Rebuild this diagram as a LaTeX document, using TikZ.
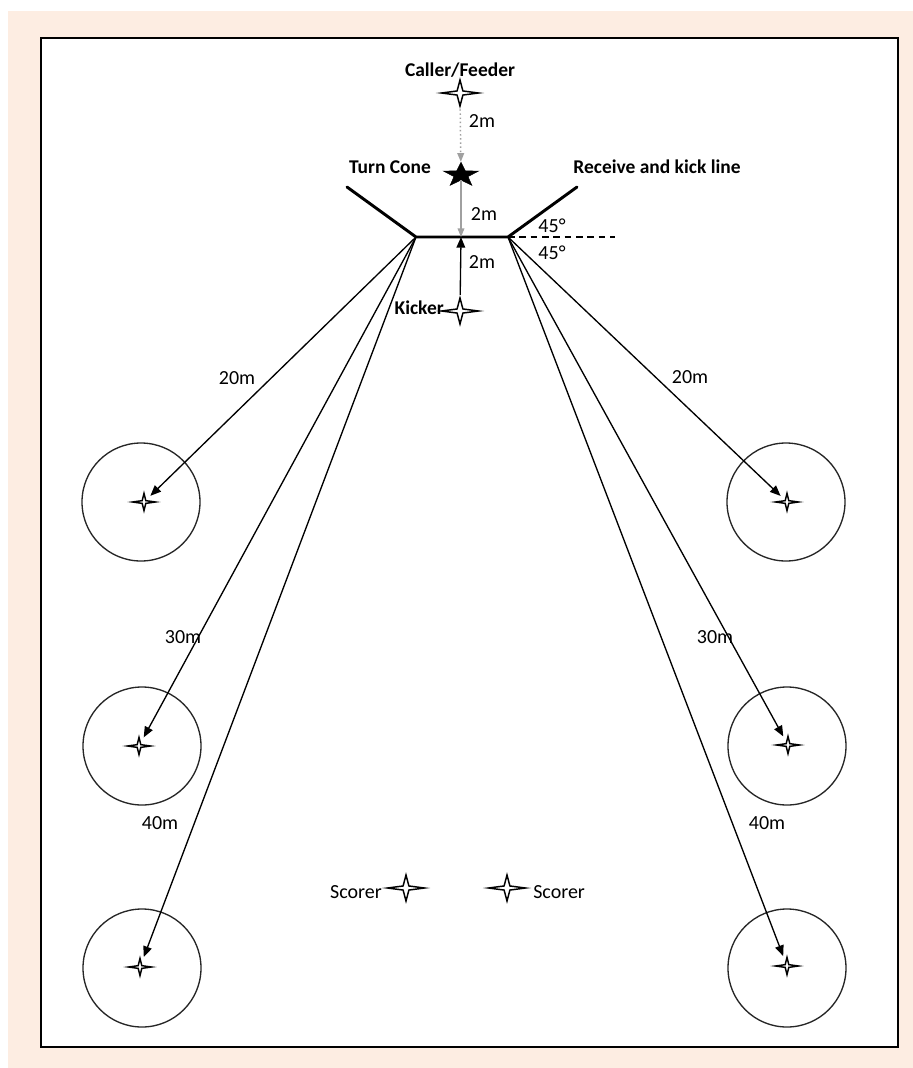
\documentclass[tikz,border=0pt]{standalone}
\usepackage{fontspec}
\setmainfont{Carlito}
\usepackage{tikz}
\usetikzlibrary{arrows.meta}
\usetikzlibrary{shapes.geometric}
\definecolor{ColPeach}{RGB}{253,237,226}
\definecolor{ColGrey}{RGB}{160,160,160}
\tikzstyle{NodeText}=[inner sep=0pt,font=\fontsize{15}{17}\selectfont]
\tikzstyle{NodeTitle}=[inner sep=0pt,font=\fontsize{14.6}{17}\selectfont\bfseries]
\tikzstyle{NodePlayer}=[star,star points=4,star point ratio=4.5,draw=black,fill=white,
line width=1.1pt,inner sep=0pt,minimum size=19.5pt,xscale=1.42,transform shape]
\tikzstyle{NodeTarget}=[NodePlayer,minimum size=13pt,xscale=0.93]
\tikzstyle{NodeCone}=[star,star points=5,star point ratio=2.5,draw=black,fill=black,
inner sep=0pt,minimum size=19pt,xscale=1.45,transform shape]
\tikzstyle{NodeZone}=[circle,draw=black!85,line width=1pt,inner sep=0pt,minimum size=88.5pt]
\tikzstyle{KickLine}=[line width=2.2pt,line cap=round,line join=miter]
\tikzstyle{EdgeKick}=[-{Triangle[length=8pt,width=6.5pt]},line width=1pt,shorten >=4pt]
\tikzstyle{EdgeFeed}=[-{Triangle[length=6.5pt,width=5pt]},ColGrey,line width=1.1pt,dotted]
\tikzstyle{EdgeTurn}=[-{Triangle[length=6.5pt,width=5pt]},ColGrey,line width=1.1pt]
\begin{document}
\begin{tikzpicture}[x=0.75pt,y=-0.75pt]
        \useasboundingbox(0,0)rectangle(913,1068);
        \fill[ColPeach](8,11)rectangle(913,1068);
        \filldraw[fill=white,line width=1.5pt](41,38)rectangle(898,1047);
        % feeder and turn cone
        \node[NodeTitle](callerlabel)at(460,70){Caller/Feeder};
        \node[NodePlayer](feeder)at(460,93){};
        \node[NodeCone](cone)at(461,175){};
        \node[NodeTitle](conelabel)at(390,167){Turn Cone};
        \node[NodeTitle](linelabel)at(657,167){Receive and kick line};
        % receive and kick line
        \coordinate(lineL)at(416,237);
        \coordinate(lineR)at(508,237);
        \coordinate(lineM)at(461,237);
        \coordinate(armL)at(347,187);
        \coordinate(armR)at(577,187);
        \coordinate(dashend)at(615,237);
        \draw[KickLine](armL)--(lineL)--(lineR)--(armR);
        \draw[line width=0.9pt,dash pattern=on 5pt off 3.5pt](lineR)--(dashend);
        \node[NodeText](angleA)at(552,226){45°};
        \node[NodeText](angleB)at(552,253){45°};
        % kicker
        \node[NodePlayer](kicker)at(460,311){};
        \node[NodeTitle,anchor=east](kickerlabel)at(444,308){Kicker};
        \draw[EdgeFeed](feeder)--(cone);
        \draw[EdgeTurn](cone)--(lineM);
        \draw[EdgeKick,shorten >=0pt](kicker)--(lineM);
        \node[NodeText](distA)at(482,121){2m};
        \node[NodeText](distB)at(484,214){2m};
        \node[NodeText](distC)at(482,262){2m};
        % target zones
        \node[NodeZone](zoneLA)at(141,502){};
        \node[NodeZone](zoneLB)at(142,746){};
        \node[NodeZone](zoneLC)at(142,968){};
        \node[NodeZone](zoneRA)at(786,502){};
        \node[NodeZone](zoneRB)at(787,746){};
        \node[NodeZone](zoneRC)at(787,968){};
        \node[NodeTarget](targetLA)at(144,502){};
        \node[NodeTarget](targetLB)at(139,746){};
        \node[NodeTarget](targetLC)at(140,967){};
        \node[NodeTarget](targetRA)at(787,502){};
        \node[NodeTarget](targetRB)at(788,745){};
        \node[NodeTarget](targetRC)at(787,966){};
        \draw[EdgeKick](lineL)--(targetLA);
        \draw[EdgeKick](lineL)--(targetLB);
        \draw[EdgeKick](lineL)--(targetLC);
        \draw[EdgeKick](lineR)--(targetRA);
        \draw[EdgeKick](lineR)--(targetRB);
        \draw[EdgeKick](lineR)--(targetRC);
        \node[NodeText](lenLA)at(237,378){20m};
        \node[NodeText](lenLB)at(183,637){30m};
        \node[NodeText](lenLC)at(160,823){40m};
        \node[NodeText](lenRA)at(690,377){20m};
        \node[NodeText](lenRB)at(715,637){30m};
        \node[NodeText](lenRC)at(767,823){40m};
        % scorers
        \node[NodePlayer](scorerL)at(406,888){};
        \node[NodePlayer](scorerR)at(507,888){};
        \node[NodeText,anchor=east](scorerLlabel)at(382,892){Scorer};
        \node[NodeText,anchor=west](scorerRlabel)at(533,892){Scorer};
    \end{tikzpicture}
\end{document}
